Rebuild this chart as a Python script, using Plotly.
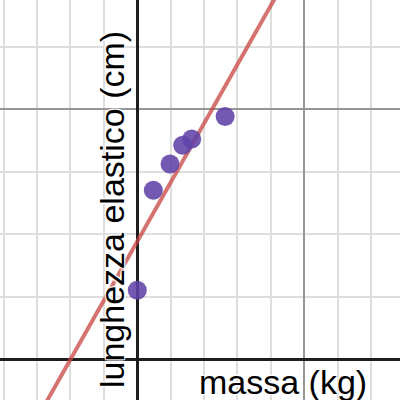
import plotly.graph_objects as go

# data (grid units)
massa = [0.0, 0.48, 0.98, 1.36, 1.63, 2.63]
lunghezza = [1.10, 2.70, 3.12, 3.42, 3.52, 3.88]

# regression line
slope = 0.944
intercept = 1.882

x_range = [-4.11, 7.865]
y_range = [-0.656, 5.744]

line_x = [x_range[0], x_range[1]]
line_y = [intercept + slope * v for v in line_x]

fig = go.Figure()
fig.add_trace(go.Scatter(x=line_x, y=line_y, mode="lines",
                         line=dict(color="rgba(199,68,64,0.75)", width=4),
                         hoverinfo="skip", showlegend=False))
fig.add_trace(go.Scatter(x=massa, y=lunghezza, mode="markers",
                         marker=dict(color="rgba(96,66,166,0.88)", size=19, line=dict(width=0)),
                         showlegend=False))

halo = "1px 1px 1px white, -1px -1px 1px white, 1px -1px 1px white, -1px 1px 1px white"
fnt = dict(family="Liberation Sans, Arial, sans-serif", size=34, color="black", shadow=halo)

fig.update_layout(
    width=400, height=400,
    margin=dict(l=0, r=0, t=0, b=0),
    paper_bgcolor="white", plot_bgcolor="white",
    xaxis=dict(range=x_range, dtick=5, tick0=0, showgrid=True, gridcolor="rgb(150,150,150)", gridwidth=2,
               zeroline=True, zerolinecolor="rgb(30,30,30)", zerolinewidth=3,
               showticklabels=False, ticks="", showline=False, fixedrange=True,
               minor=dict(dtick=1, tick0=0, showgrid=True, gridcolor="rgb(222,222,222)", gridwidth=2)),
    yaxis=dict(range=y_range, dtick=4, tick0=0, showgrid=True, gridcolor="rgb(150,150,150)", gridwidth=2,
               zeroline=True, zerolinecolor="rgb(30,30,30)", zerolinewidth=3,
               showticklabels=False, ticks="", showline=False, fixedrange=True,
               minor=dict(dtick=1, tick0=0, showgrid=True, gridcolor="rgb(222,222,222)", gridwidth=2)),
    annotations=[
        dict(text="massa (kg)", xref="paper", yref="paper", x=369/400, y=1-382/400,
             xanchor="right", yanchor="middle", showarrow=False, font=fnt),
        dict(text="lunghezza elastico (cm)", xref="paper", yref="paper", x=112/400, y=1-210/400,
             xanchor="center", yanchor="middle", textangle=-90, showarrow=False, font=fnt),
    ],
)

fig.write_html("out.html", config={"displayModeBar": False},
               post_script="document.body.style.margin='0';document.body.style.overflow='hidden';")
